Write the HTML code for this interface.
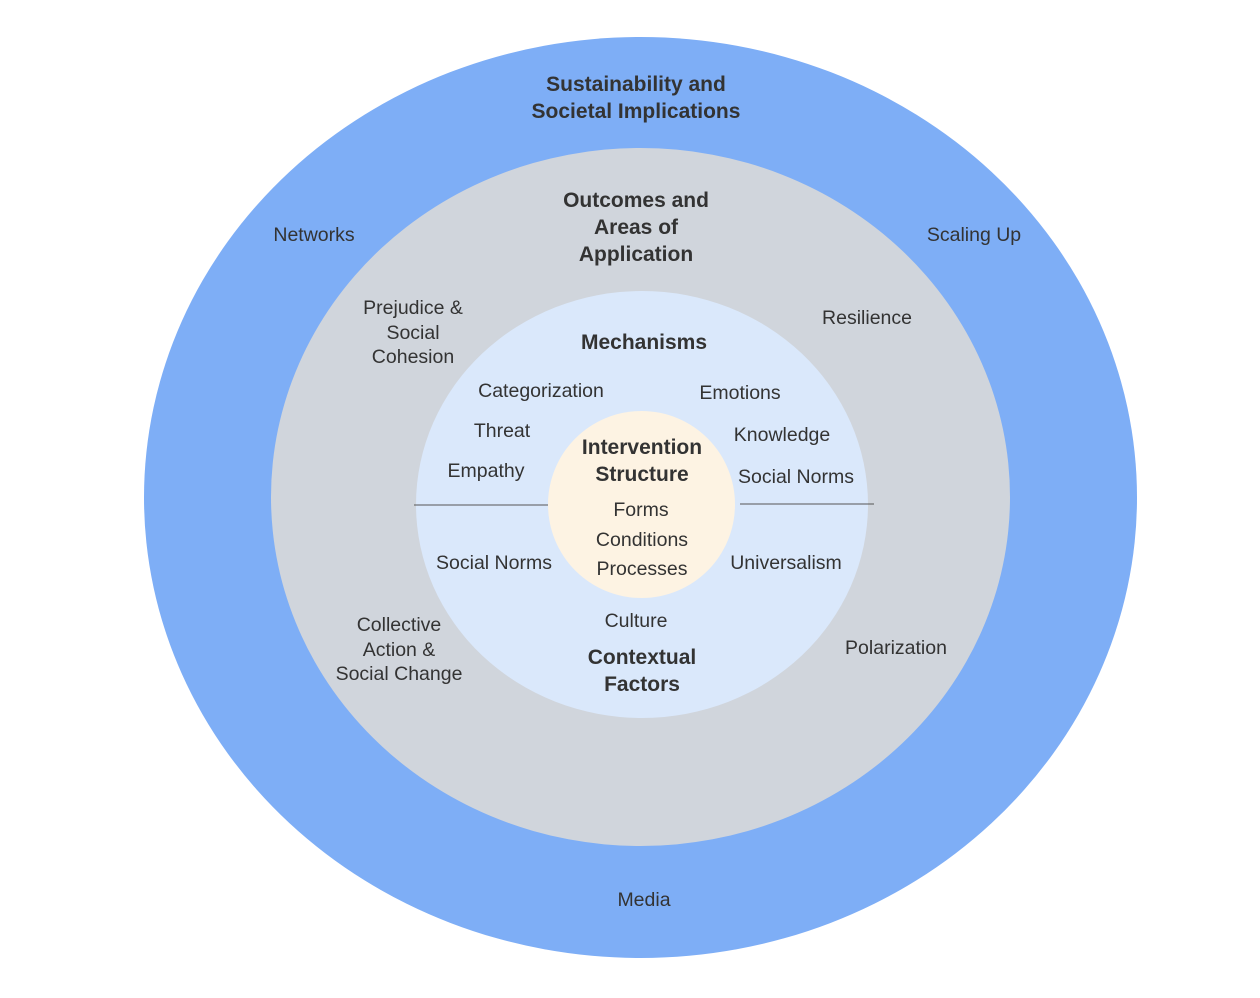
<!DOCTYPE html>
<html><head><meta charset="utf-8"><style>
html,body{margin:0;padding:0;background:#fff;}
svg{display:block;}
text{font-family:"Liberation Sans",Arial,sans-serif;fill:#333;font-size:19.5px;text-anchor:middle;}
.b{font-weight:bold;font-size:21px;}
</style></head><body>
<svg width="1260" height="998" viewBox="0 0 1260 998">
<rect width="1260" height="998" fill="#fff"/>
<ellipse cx="640.5" cy="497.5" rx="496.5" ry="460.5" fill="#7eaef6"/>
<ellipse cx="640.5" cy="497" rx="369.5" ry="349" fill="#d0d5dc"/>
<ellipse cx="642" cy="504.5" rx="226" ry="213.5" fill="#dae8fb"/>
<line x1="414" y1="505" x2="548" y2="505" stroke="#555" stroke-width="1"/>
<line x1="740" y1="504" x2="874" y2="504" stroke="#555" stroke-width="1"/>
<circle cx="641.5" cy="504.5" r="93.5" fill="#fdf3e3"/>

<text class="b" x="636" y="91">Sustainability and</text>
<text class="b" x="636" y="118">Societal Implications</text>
<text x="314" y="241">Networks</text>
<text x="974" y="241">Scaling Up</text>
<text x="644" y="906">Media</text>

<text class="b" x="636" y="207">Outcomes and</text>
<text class="b" x="636" y="234">Areas of</text>
<text class="b" x="636" y="261">Application</text>
<text x="413" y="314">Prejudice &amp;</text>
<text x="413" y="339">Social</text>
<text x="413" y="363">Cohesion</text>
<text x="867" y="324">Resilience</text>
<text x="399" y="631">Collective</text>
<text x="399" y="656">Action &amp;</text>
<text x="399" y="680">Social Change</text>
<text x="896" y="654">Polarization</text>

<text class="b" x="644" y="349">Mechanisms</text>
<text x="541" y="397">Categorization</text>
<text x="740" y="399">Emotions</text>
<text x="502" y="437">Threat</text>
<text x="782" y="441">Knowledge</text>
<text x="486" y="477">Empathy</text>
<text x="796" y="483">Social Norms</text>
<text x="494" y="569">Social Norms</text>
<text x="786" y="569">Universalism</text>
<text x="636" y="627">Culture</text>
<text class="b" x="642" y="664">Contextual</text>
<text class="b" x="642" y="691">Factors</text>

<text class="b" x="642" y="454">Intervention</text>
<text class="b" x="642" y="481">Structure</text>
<text x="641" y="516">Forms</text>
<text x="642" y="546">Conditions</text>
<text x="642" y="575">Processes</text>
</svg>
</body></html>
